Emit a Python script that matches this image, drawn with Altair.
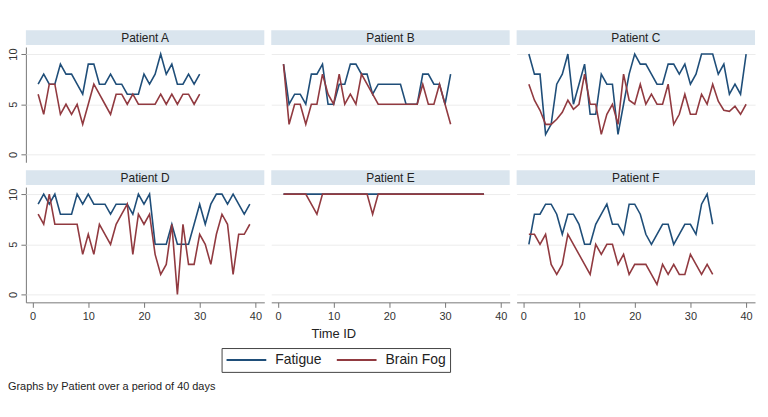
import altair as alt
import pandas as pd

patients = ["Patient A", "Patient B", "Patient C", "Patient D", "Patient E", "Patient F"]

fatigue_a = [7, 8, 7, 7, 9, 8, 8, 7, 6, 9, 9, 7, 7, 8, 7, 7, 6, 6, 6, 8, 7, 8, 10, 8, 9, 7, 7, 8, 7, 8]
fog_a = [6, 4, 7, 7, 4, 5, 4, 5, 3, 5, 7, 6, 5, 4, 6, 6, 5, 6, 5, 5, 5, 5, 6, 5, 6, 5, 6, 6, 5, 6]

fatigue_b = [9, 5, 6, 6, 5, 8, 8, 9, 5, 5, 7, 7, 9, 9, 8, 8, 6, 7, 7, 7, 7, 7, 5, 5, 5, 8, 8, 7, 7, 5, 8]
fog_b = [9, 3, 5, 5, 3, 5, 5, 8, 6, 5, 8, 5, 6, 5, 8, 7, 6, 5, 5, 5, 5, 5, 5, 5, 5, 7, 5, 5, 7, 5, 3]

fatigue_c = [10, 8, 8, 2, 3, 7, 8, 10, 5, 7, 9, 4, 4, 8, 7, 7, 2, 5, 8, 10,
             9, 9, 8, 7, 7, 9, 9, 8, 9, 7, 8, 10, 10, 10, 8, 9, 6, 7, 6, 10]
fog_c = [7, 5.4, 4.4, 3, 3, 3.5, 4.2, 5.4, 4.5, 5, 8, 5, 5, 2, 4, 5, 3, 8, 5.4, 5,
         7, 5, 6, 5, 5, 7, 3, 4, 6, 4, 4, 6, 5, 7, 5.3, 4.4, 4.3, 4.8, 4, 5]

fatigue_d = [9, 10, 9, 10, 8, 8, 8, 10, 9, 10, 9, 9, 9, 8, 9, 9, 9, 8, 10, 9,
             10, 5, 5, 5, 7, 5, 5, 5, 7, 9, 7, 9, 10, 10, 9, 10, 9, 8, 9]
fog_d = [8, 7, 10, 7, 7, 7, 7, 7, 4, 6, 4, 7, 6, 5, 7, 8, 9, 4, 8, 7,
         8, 4, 2, 3, 7, 0, 7, 3, 3, 6, 5, 3, 6, 8, 7, 2, 6, 6, 7]

fatigue_e = [10] * 37
fog_e = [10, 10, 10, 10, 10, 9, 8, 10, 10, 10, 10, 10, 10, 10, 10, 10, 8, 10, 10, 10,
         10, 10, 10, 10, 10, 10, 10, 10, 10, 10, 10, 10, 10, 10, 10, 10, 10]

fatigue_f = [5, 8, 8, 9, 9, 8, 6, 8, 8, 7, 5, 5, 7, 8, 9, 7, 7, 6, 9, 9,
             8, 6, 5, 6, 7, 7, 5, 6, 7, 7, 6, 9, 10, 7]
fog_f = [6, 6, 5, 6, 3, 2, 3, 6, 5, 4, 3, 2, 5, 4, 5, 5, 3, 4, 2, 3,
         3, 3, 2, 1, 3, 2, 3, 2, 2, 4, 3, 2, 3, 2]

series_names = ["Fatigue", "Brain Fog"]
series_colors = ["#1f4e79", "#913a40"]
x_ticks = [0, 10, 20, 30, 40]
y_ticks = [0, 5, 10]

fatigue_all = [fatigue_a, fatigue_b, fatigue_c, fatigue_d, fatigue_e, fatigue_f]
fog_all = [fog_a, fog_b, fog_c, fog_d, fog_e, fog_f]

rows = []
for p, fat in zip(patients, fatigue_all):
    for i, v in enumerate(fat):
        rows.append({"patient": p, "day": i + 1, "measure": "Fatigue", "value": v, "o": 0})
for p, fog in zip(patients, fog_all):
    for i, v in enumerate(fog):
        rows.append({"patient": p, "day": i + 1, "measure": "Brain Fog", "value": v, "o": 1})
df = pd.DataFrame(rows)

W, H = 240, 116
FONT = "Liberation Sans"
ONE_PER_PANEL = "datum.day == 1 && datum.measure == 'Fatigue'"

header_rect = alt.Chart().transform_filter(ONE_PER_PANEL).mark_rect(color="#dae5ee").encode(
    x=alt.value(0), x2=alt.value(W), y=alt.value(-17), y2=alt.value(-2)
)
header_text = alt.Chart().transform_filter(ONE_PER_PANEL).mark_text(
    font=FONT, fontSize=12, color="#222222", baseline="middle"
).encode(x=alt.value(W / 2), y=alt.value(-9), text="patient:N")

time_title = alt.Chart().transform_filter(
    ONE_PER_PANEL + " && datum.patient == 'Patient E'"
).mark_text(font=FONT, fontSize=13, color="#222222", baseline="middle").encode(
    x=alt.value(63), y=alt.value(H + 32), text=alt.value("Time ID")
)

lines = alt.Chart().mark_line(strokeWidth=1.6).encode(
    x=alt.X("day:Q",
            scale=alt.Scale(domain=[-1.2, 41.6], nice=False, zero=False),
            axis=alt.Axis(values=x_ticks, title=None, grid=False, domainColor="#777777",
                          tickColor="#777777", tickSize=5, labelFontSize=11, labelColor="#333333",
                          labelPadding=3, offset=0)),
    y=alt.Y("value:Q",
            scale=alt.Scale(domain=[-0.78, 10.7], nice=False, zero=False),
            axis=alt.Axis(values=y_ticks, title=None, grid=True, gridColor="#ececec",
                          domainColor="#777777", tickColor="#777777", tickSize=5,
                          labelAngle=270, labelAlign="center", labelBaseline="bottom",
                          labelFontSize=11, labelColor="#333333", labelPadding=2)),
    color=alt.Color("measure:N",
                    scale=alt.Scale(domain=series_names, range=series_colors),
                    legend=alt.Legend(title=None, orient="none", legendX=197, legendY=303,
                                      direction="horizontal", symbolType="stroke",
                                      symbolStrokeWidth=2, symbolSize=1600, clipHeight=16,
                                      labelFontSize=14, labelFont=FONT, labelColor="#222222",
                                      strokeColor="#444444", padding=4, columnPadding=14,
                                      labelOffset=8, cornerRadius=0)),
    order=alt.Order("o:Q"),
    detail="measure:N",
)

chart = alt.layer(header_rect, header_text, time_title, lines, data=df).properties(
    width=W, height=H
).facet(
    facet=alt.Facet("patient:N", title=None,
                    header=alt.Header(labels=False, title=None, labelExpr="''",
                                      labelPadding=0, labelFontSize=1)),
    columns=3,
    spacing={"row": 25, "column": 7},
    bounds="flush",
).properties(
    title=alt.TitleParams("Graphs by Patient over a period of 40 days", orient="bottom",
                          anchor="start", fontSize=11, fontWeight="normal", font=FONT,
                          color="#222222", dx=0, offset=9),
    padding={"left": 0, "top": 20, "right": 5, "bottom": 5},
).configure(
    font=FONT,
    background="white",
).configure_header(
    labels=False, labelPadding=0, titlePadding=0
).configure_view(stroke=None)

chart.save("out.html", embed_options={"renderer": "svg", "actions": False})
